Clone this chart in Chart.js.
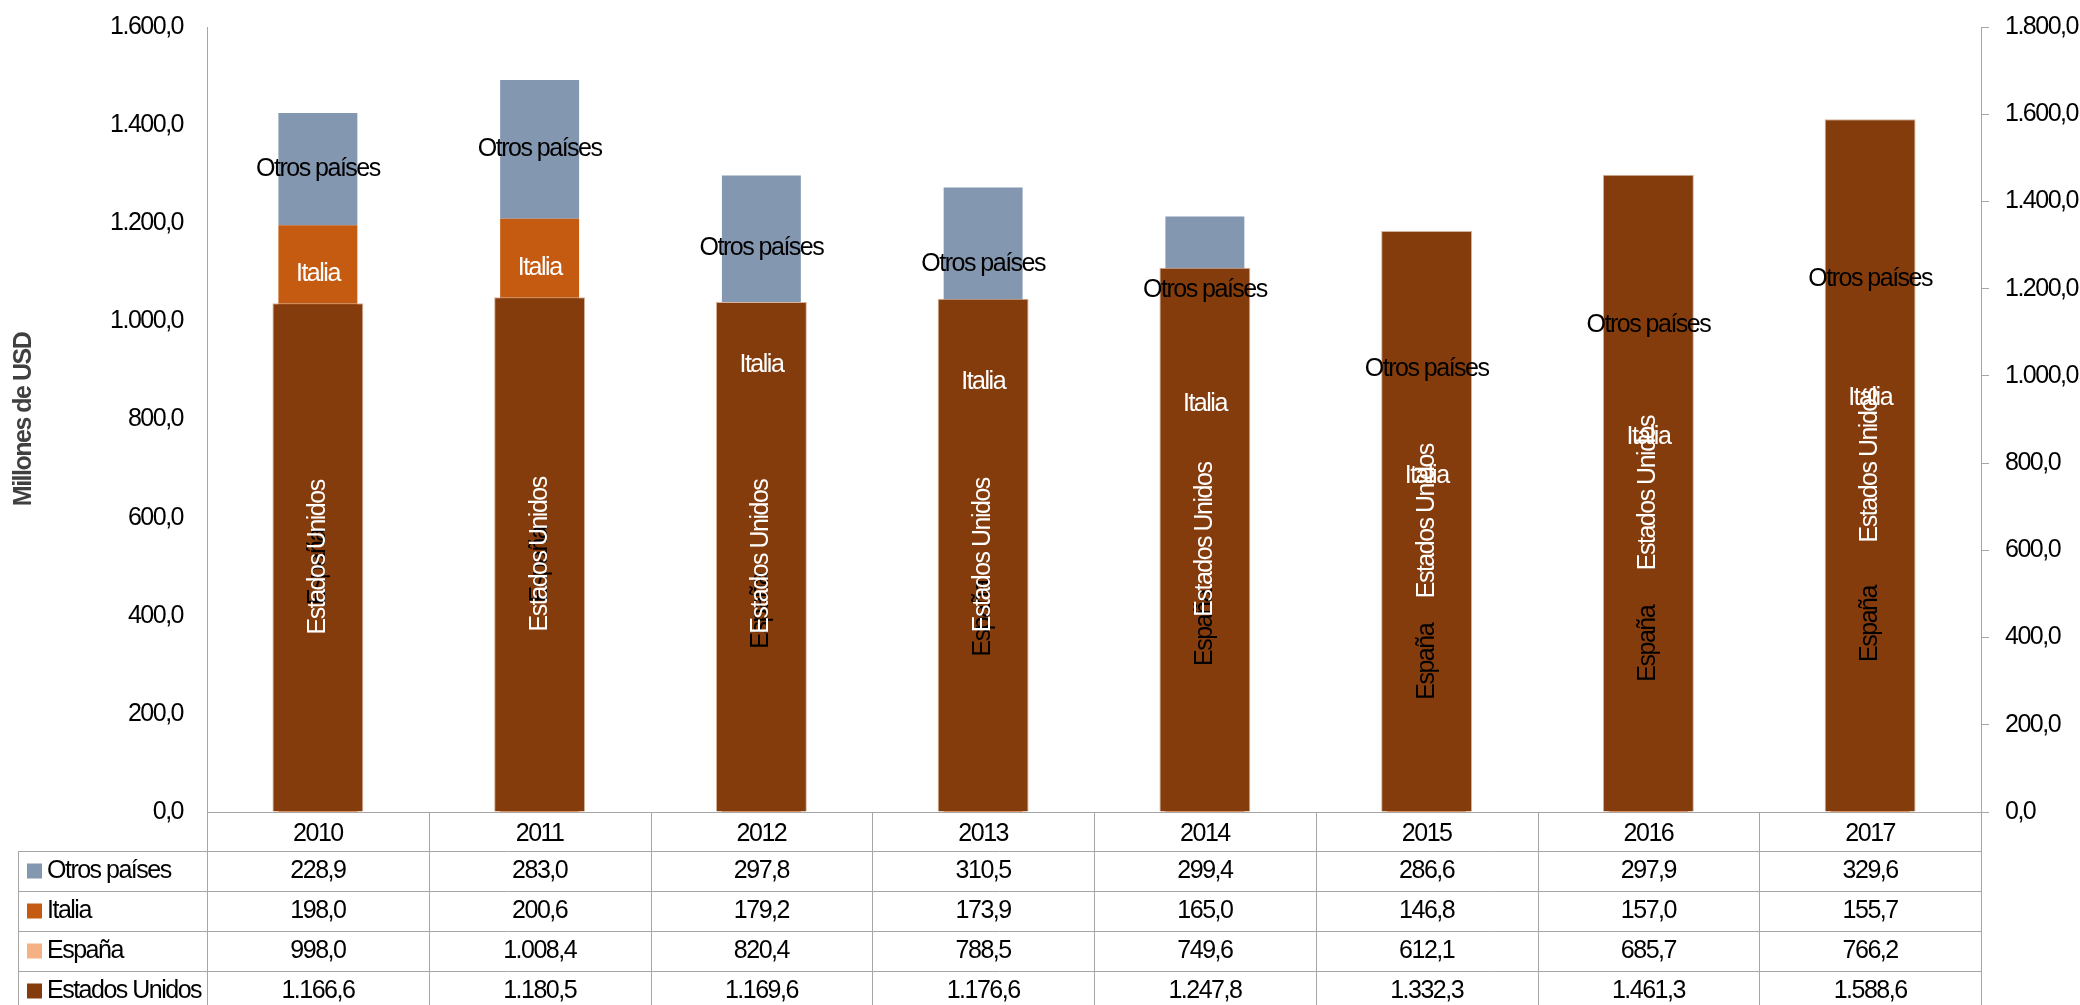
<!DOCTYPE html>
<html lang="es">
<head>
    <meta charset="UTF-8">
    <script src="https://cdn.jsdelivr.net/npm/chart.js"></script>
    <title>Millones de USD</title>
</head>
<style>
    body{
        margin: 0;
        background: #ffffff;
    }
    #wrap{
        width: 2080px;
        height: 1005px;
    }
</style>
<body>

<div id="wrap">
    <canvas id="myChart" width="2080" height="1005"></canvas>
</div>

<script>
    const years = ["2010", "2011", "2012", "2013", "2014", "2015", "2016", "2017"];
    const otros = [228.9, 283.0, 297.8, 310.5, 299.4, 286.6, 297.9, 329.6];
    const italia = [198.0, 200.6, 179.2, 173.9, 165.0, 146.8, 157.0, 155.7];
    const espana = [998.0, 1008.4, 820.4, 788.5, 749.6, 612.1, 685.7, 766.2];
    const eeuu = [1166.6, 1180.5, 1169.6, 1176.6, 1247.8, 1332.3, 1461.3, 1588.6];

    const FONT = "'Liberation Sans Narrow', 'Arial Narrow', 'Liberation Sans', sans-serif";
    const LINE = "#a6a6a6";

    // 1.234,5 style numbers
    function fmt(v) {
        const parts = Number(v).toFixed(1).split(".");
        const ent = parts[0].replace(/\B(?=(\d{3})+(?!\d))/g, ".");
        return ent + "," + parts[1];
    }

    // no narrow font here, so squeeze the letters a bit
    const narrowText = {
        id: "narrowText",
        beforeDraw(chart) {
            chart.ctx.letterSpacing = "-1.5px";
        }
    };

    // series names written inside the bars
    const barLabels = {
        id: "barLabels",
        afterDatasetsDraw(chart) {
            const ctx = chart.ctx;
            ctx.save();
            ctx.font = "25px " + FONT;
            ctx.textAlign = "center";
            ctx.textBaseline = "middle";
            chart.data.datasets.forEach((ds, i) => {
                const meta = chart.getDatasetMeta(i);
                meta.data.forEach(bar => {
                    const cy = (bar.y + bar.base) / 2;
                    ctx.fillStyle = ds.labelColor;
                    if (ds.labelVertical) {
                        ctx.save();
                        ctx.translate(bar.x, cy);
                        ctx.rotate(-Math.PI / 2);
                        ctx.fillText(ds.label, 0, 0);
                        ctx.restore();
                    } else {
                        ctx.fillText(ds.label, bar.x, cy);
                    }
                });
            });
            ctx.restore();
        }
    };

    // data table under the plot
    const rows = [
        {name: "Otros países", color: "#8497B0", values: otros},
        {name: "Italia", color: "#C55A11", values: italia},
        {name: "España", color: "#F4B183", values: espana},
        {name: "Estados Unidos", color: "#843C0C", values: eeuu}
    ];

    const dataTable = {
        id: "dataTable",
        afterDraw(chart) {
            const ctx = chart.ctx;
            const x = chart.scales.x;
            const area = chart.chartArea;
            const headTop = area.bottom;
            const rowTop = headTop + 39;
            const rowH = 40;
            const tableLeft = 18;
            const step = (area.right - area.left) / years.length;

            ctx.save();
            ctx.strokeStyle = LINE;
            ctx.lineWidth = 1;
            ctx.beginPath();
            // vertical lines
            for (let k = 0; k <= years.length; k++) {
                const vx = Math.round(area.left + k * step) + 0.5;
                ctx.moveTo(vx, headTop);
                ctx.lineTo(vx, chart.height);
            }
            ctx.moveTo(tableLeft + 0.5, rowTop);
            ctx.lineTo(tableLeft + 0.5, chart.height);
            // horizontal lines
            for (let r = 0; r < rows.length; r++) {
                const hy = Math.round(rowTop + r * rowH) + 0.5;
                ctx.moveTo(tableLeft, hy);
                ctx.lineTo(area.right, hy);
            }
            ctx.stroke();

            ctx.font = "25px " + FONT;
            ctx.textBaseline = "middle";
            rows.forEach((row, r) => {
                const cy = rowTop + r * rowH + rowH / 2;
                ctx.fillStyle = row.color;
                ctx.fillRect(27, cy - 7.5, 15, 15);
                ctx.fillStyle = "#000";
                ctx.textAlign = "left";
                ctx.fillText(row.name, 47, cy);
                ctx.textAlign = "center";
                row.values.forEach((v, i) => {
                    ctx.fillText(fmt(v), x.getPixelForValue(i), cy);
                });
            });
            ctx.restore();
        }
    };

    // keep the plot box where the original has it
    function fixBox(scale, size) {
        if (scale.isHorizontal()) {
            scale.height = size;
        } else {
            scale.width = size;
        }
        scale.paddingTop = 0;
        scale.paddingBottom = 0;
        scale.paddingLeft = 0;
        scale.paddingRight = 0;
    }

    const ctx = document.getElementById("myChart").getContext("2d");
    new Chart(ctx, {
        type: "bar",
        data: {
            labels: years,
            datasets: [
                {
                    label: "España",
                    data: espana,
                    backgroundColor: "#F4B183",
                    yAxisID: "y",
                    barPercentage: 0.356,
                    order: 1,
                    labelColor: "#000",
                    labelVertical: true
                },
                {
                    label: "Italia",
                    data: italia,
                    backgroundColor: "#C55A11",
                    yAxisID: "y",
                    barPercentage: 0.356,
                    order: 1,
                    labelColor: "#fff",
                    labelVertical: false
                },
                {
                    label: "Otros países",
                    data: otros,
                    backgroundColor: "#8497B0",
                    yAxisID: "y",
                    barPercentage: 0.356,
                    order: 1,
                    labelColor: "#000",
                    labelVertical: false
                },
                {
                    label: "Estados Unidos",
                    data: eeuu,
                    backgroundColor: "#843C0C",
                    borderColor: "#d6b39a",
                    borderWidth: {left: 1, right: 1, top: 1, bottom: 0},
                    yAxisID: "y1",
                    barPercentage: 0.41,
                    order: 0,
                    labelColor: "#fff",
                    labelVertical: true
                }
            ]
        },
        options: {
            responsive: false,
            animation: false,
            datasets: {
                bar: {
                    grouped: false,
                    categoryPercentage: 1
                }
            },
            layout: {
                padding: {top: 27, left: 0, right: 0, bottom: 0}
            },
            plugins: {
                legend: {display: false},
                tooltip: {enabled: false}
            },
            scales: {
                x: {
                    stacked: true,
                    grid: {display: false, drawTicks: false},
                    border: {display: true, color: LINE},
                    ticks: {
                        color: "#000",
                        padding: 7,
                        font: {family: FONT, size: 25}
                    },
                    afterFit: scale => fixBox(scale, 193)
                },
                y: {
                    position: "left",
                    stacked: true,
                    min: 0,
                    max: 1600,
                    grid: {display: false, drawTicks: false},
                    border: {display: true, color: LINE},
                    ticks: {
                        stepSize: 200,
                        color: "#000",
                        padding: 24,
                        font: {family: FONT, size: 25},
                        callback: v => fmt(v)
                    },
                    title: {
                        display: true,
                        text: "Millones de USD",
                        color: "#404040",
                        padding: {top: 9, bottom: 0},
                        font: {family: FONT, size: 25, weight: "bold"}
                    },
                    afterFit: scale => fixBox(scale, 207)
                },
                y1: {
                    position: "right",
                    min: 0,
                    max: 1800,
                    grid: {
                        display: true,
                        drawOnChartArea: false,
                        drawTicks: true,
                        tickLength: 8,
                        color: LINE
                    },
                    border: {display: true, color: LINE},
                    ticks: {
                        stepSize: 200,
                        color: "#000",
                        padding: 16,
                        font: {family: FONT, size: 25},
                        callback: v => fmt(v)
                    },
                    afterFit: scale => fixBox(scale, 99)
                }
            }
        },
        plugins: [narrowText, barLabels, dataTable]
    });
</script>

</body>
</html>
